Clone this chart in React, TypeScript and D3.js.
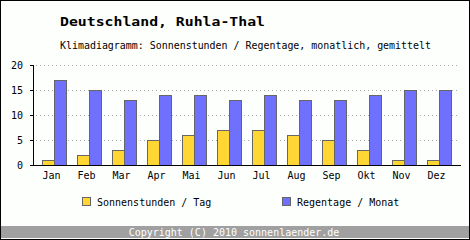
import React from 'react'
import * as d3 from 'd3'

const months = ['Jan', 'Feb', 'Mar', 'Apr', 'Mai', 'Jun', 'Jul', 'Aug', 'Sep', 'Okt', 'Nov', 'Dez']
const sonnenstunden = [1, 2, 3, 5, 6, 7, 7, 6, 5, 3, 1, 1]
const regentage = [17, 15, 13, 14, 14, 13, 14, 13, 13, 14, 15, 15]
const yTicks = [0, 5, 10, 15, 20]

const W = 470
const H = 240
const mono = '"DejaVu Sans Mono", "Liberation Mono", monospace'
const yellow = '#ffd633'
const blue = '#7070ff'
const edge = '#666666'

export default function App() {
  const x = d3.scaleBand<string>().domain(months).range([33, 453]).padding(0)
  const y = d3.scaleLinear().domain([0, 20]).range([165, 65])
  const barW = 12

  return (
    <svg width={W} height={H} style={{ display: 'block', position: 'absolute', left: 0, top: 0 }}>
      <rect x={0.5} y={0.5} width={W - 1} height={H - 1} fill="#fdfffd" stroke="#000" />
      <text x={60} y={26} fontFamily={mono} fontWeight="bold" fontSize={13} textLength={205} lengthAdjust="spacingAndGlyphs">
        Deutschland, Ruhla-Thal
      </text>
      <text x={60} y={49} fontFamily={mono} fontSize={10} textLength={371} lengthAdjust="spacingAndGlyphs">
        Klimadiagramm: Sonnenstunden / Regentage, monatlich, gemittelt
      </text>

      {yTicks.map(t => (
        <g key={t}>
          {t > 0 && (
            <line x1={36} x2={460} y1={y(t) + 0.5} y2={y(t) + 0.5} stroke="#aaaaaa" strokeDasharray="1,3" />
          )}
          <line x1={30} x2={33} y1={y(t) + 0.5} y2={y(t) + 0.5} stroke="#000" />
          <text x={23} y={y(t) + 4} textAnchor="end" fontFamily={mono} fontSize={10}>{t}</text>
        </g>
      ))}

      {months.map((m, i) => (
        <g key={m}>
          <rect x={x(m)! + 9.5} y={y(sonnenstunden[i]) + 0.5} width={barW} height={y(0) - y(sonnenstunden[i])}
            fill={yellow} stroke={edge} />
          <rect x={x(m)! + 9.5 + barW} y={y(regentage[i]) + 0.5} width={barW} height={y(0) - y(regentage[i])}
            fill={blue} stroke={edge} />
          <text x={x(m)! + x.bandwidth() / 2 + 1} y={179} textAnchor="middle" fontFamily={mono} fontSize={10}>{m}</text>
        </g>
      ))}

      <line x1={33.5} x2={33.5} y1={65} y2={165} stroke="#000" />
      <line x1={33} x2={461} y1={165.5} y2={165.5} stroke="#000" />

      <rect x={82.5} y={197.5} width={8} height={8} fill={yellow} stroke={edge} />
      <text x={97} y={206} fontFamily={mono} fontSize={10}>Sonnenstunden / Tag</text>
      <rect x={282.5} y={197.5} width={8} height={8} fill={blue} stroke={edge} />
      <text x={297} y={206} fontFamily={mono} fontSize={10}>Regentage / Monat</text>

      <rect x={1} y={226} width={W - 2} height={12} fill="#a0a0a0" />
      <text x={234} y={235.5} textAnchor="middle" fontFamily={mono} fontSize={10} fill="#fff">
        Copyright (C) 2010 sonnenlaender.de
      </text>
    </svg>
  )
}
